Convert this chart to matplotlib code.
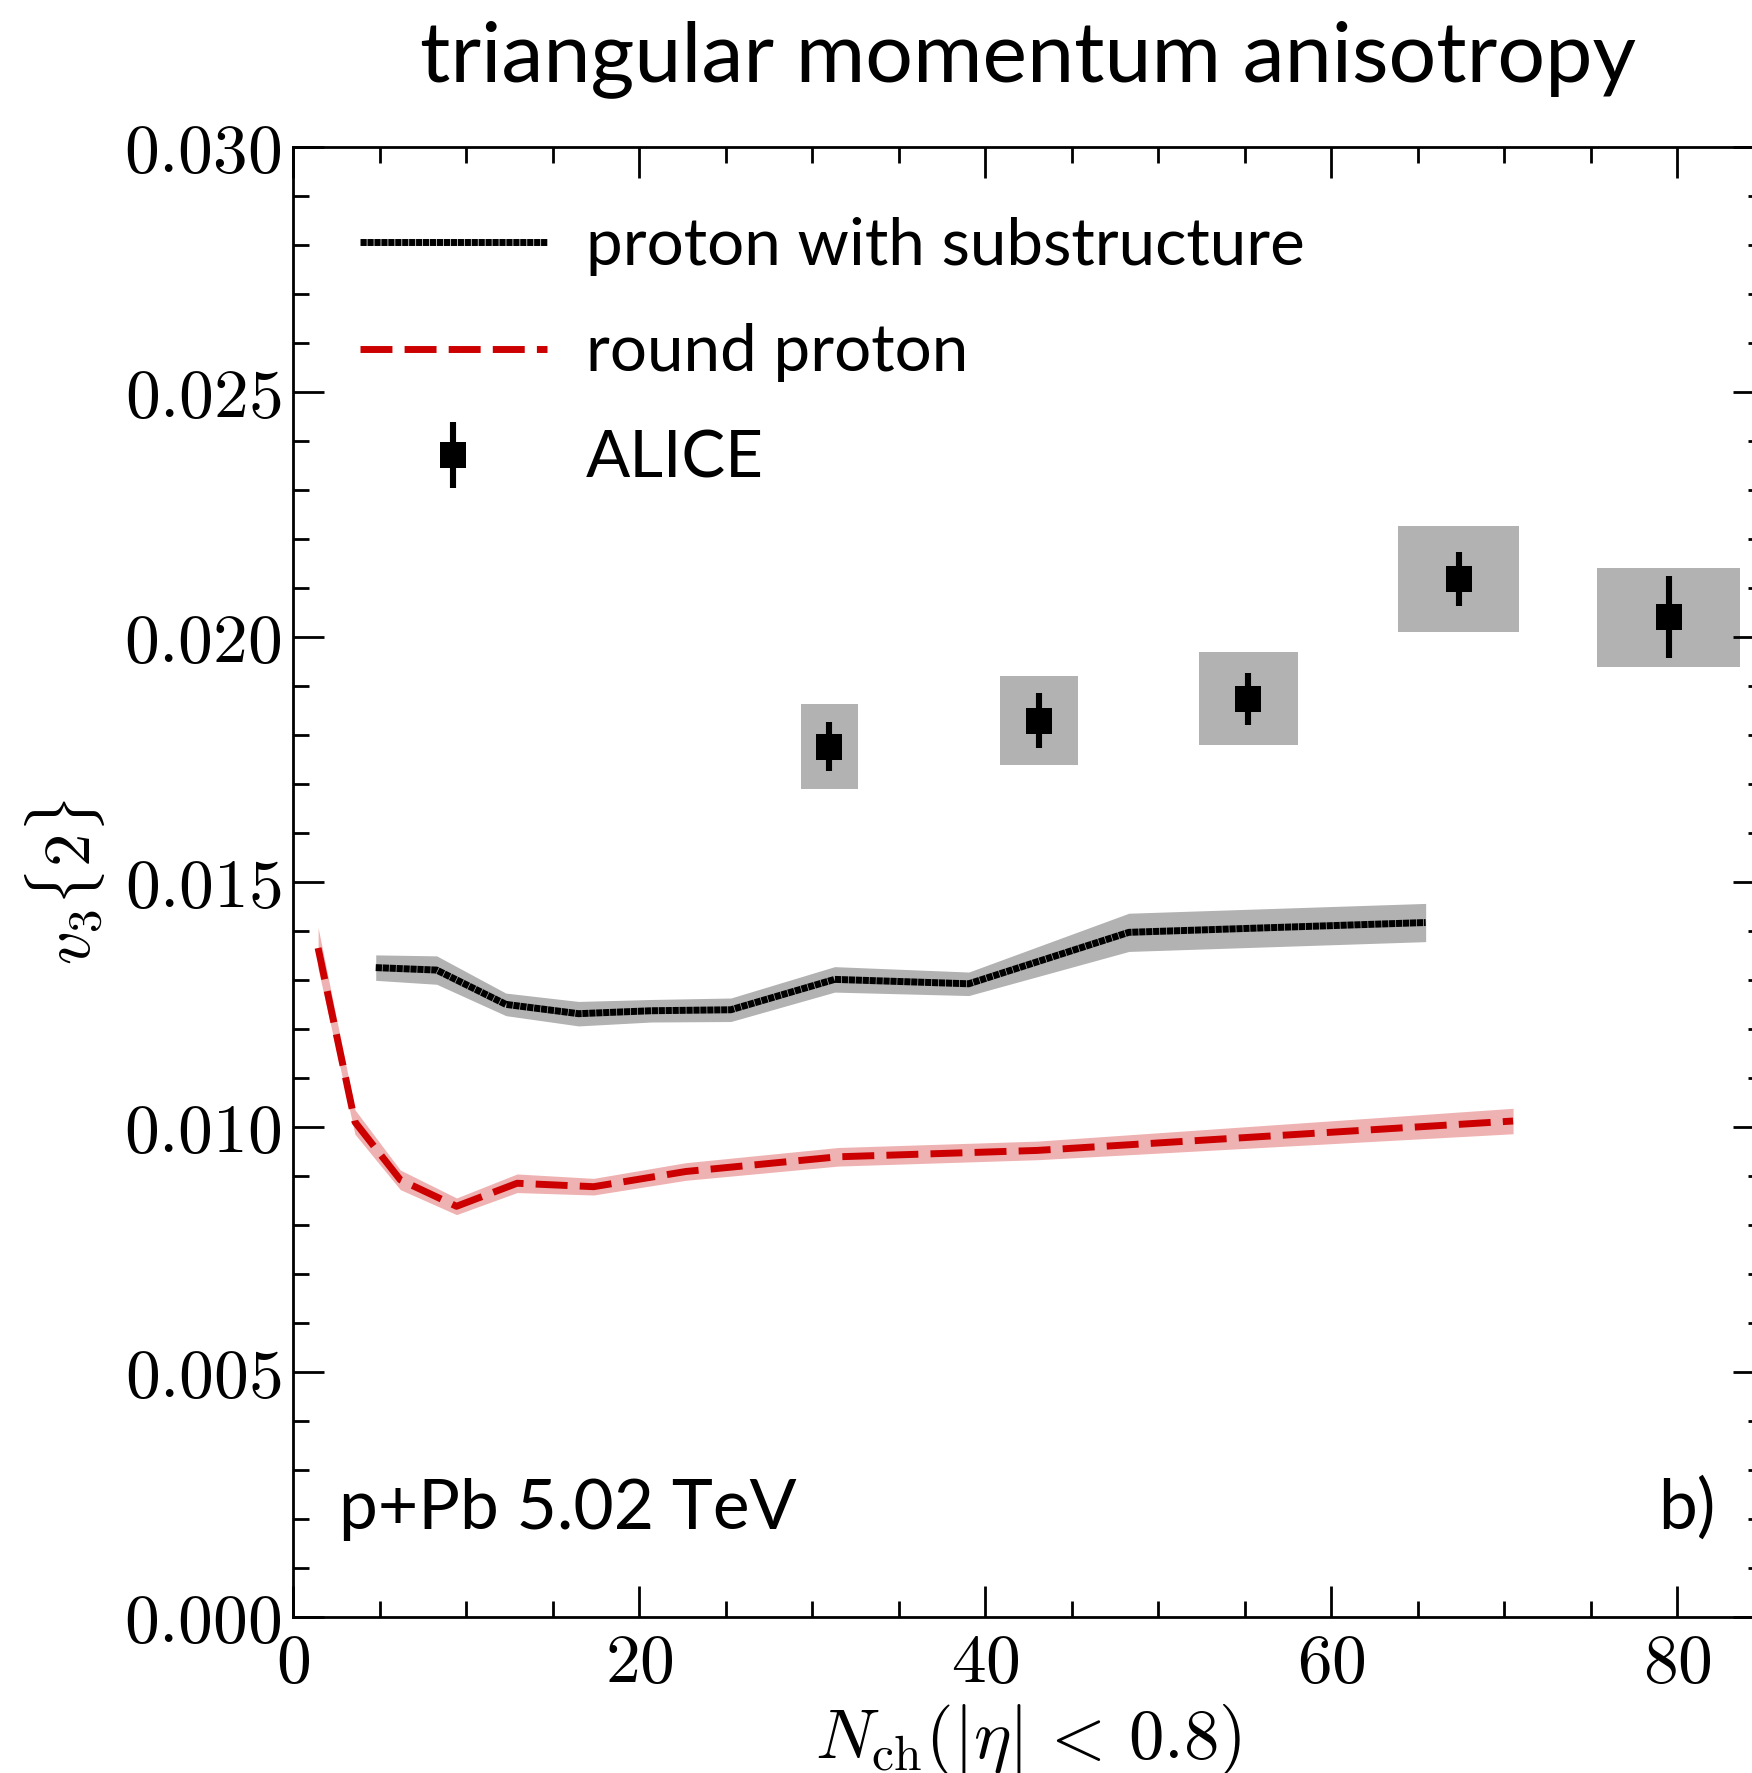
import matplotlib
matplotlib.use("Agg")
import matplotlib.pyplot as plt
import numpy as np
from matplotlib.ticker import MultipleLocator, FormatStrFormatter

plt.rcParams['mathtext.fontset'] = 'cm'
plt.rcParams['font.family'] = ['Lato', 'DejaVu Sans']

# ---- data ----
sub_x = [4.78, 8.3, 12.3, 16.5, 20.7, 25.3, 31.3, 39.05, 48.3, 65.45]
sub_y = [0.01325, 0.01320, 0.01250, 0.01231, 0.01237, 0.01239, 0.01301, 0.01292, 0.01397, 0.01417]
sub_err = [0.00026, 0.00029, 0.00023, 0.00025, 0.00023, 0.00024, 0.00026, 0.00024, 0.00039, 0.00039]

round_x = [1.45, 3.58, 6.2, 9.45, 12.95, 17.37, 22.7, 31.5, 43.0, 70.5]
round_y = [0.01365, 0.01010, 0.00892, 0.00838, 0.00885, 0.00878, 0.00909, 0.00939, 0.00952, 0.01012]
round_err = [0.00042, 0.00025, 0.00020, 0.00017, 0.00019, 0.00017, 0.00018, 0.00019, 0.00019, 0.00026]

alice_x = [31.0, 43.1, 55.2, 67.35, 79.5]
alice_y = [0.01776, 0.01829, 0.01874, 0.02118, 0.02040]
alice_stat = [0.00050, 0.00056, 0.00053, 0.00055, 0.00084]
alice_sys = [0.00086, 0.00091, 0.00095, 0.00108, 0.00101]
alice_dx = [1.65, 2.26, 2.87, 3.5, 4.14]

labels = ["proton with substructure", "round proton", "ALICE"]

W, H, DPI = 1752, 1773, 200
fig = plt.figure(figsize=(W / DPI, H / DPI), dpi=DPI)
ax = fig.add_axes([293 / W, 1 - 1617 / H, (1764 - 293) / W, (1617 - 146.7) / H])

red = '#cc0000'
lw = 2.5

sx, sy, se = map(np.asarray, (sub_x, sub_y, sub_err))
rx, ry, re_ = map(np.asarray, (round_x, round_y, round_err))
ax.fill_between(sx, sy - se, sy + se, color='black', alpha=0.3, lw=0, zorder=1)
ax.fill_between(rx, ry - re_, ry + re_, color=red, alpha=0.3, lw=0, zorder=1)
l1, = ax.plot(sx, sy, color='black', lw=lw, dashes=(0.9, 0.1), dash_capstyle='butt', zorder=3)
l2, = ax.plot(rx, ry, color=red, lw=lw, dashes=(4.6, 1.75), dash_capstyle='butt', zorder=3)

ax_, ay_, ast, asy, adx = map(np.asarray, (alice_x, alice_y, alice_stat, alice_sys, alice_dx))
ax.bar(ax_, 2 * asy, bottom=ay_ - asy, width=2 * adx, color='black', alpha=0.3, lw=0, zorder=2)
eb = ax.errorbar(ax_, ay_, yerr=ast, fmt='s', color='black', ms=9.4, elinewidth=2.2,
                 capsize=0, mew=0, zorder=4)

ax.set_xlim(0, 85)
ax.set_ylim(0, 0.030)
ax.xaxis.set_major_locator(MultipleLocator(20))
ax.xaxis.set_minor_locator(MultipleLocator(5))
ax.yaxis.set_major_locator(MultipleLocator(0.005))
ax.yaxis.set_minor_locator(MultipleLocator(0.001))
ax.xaxis.set_major_formatter(FormatStrFormatter('$%d$'))
ax.yaxis.set_major_formatter(FormatStrFormatter('$%.3f$'))
ax.tick_params(which='both', direction='in', top=True, right=True, width=1.0, labelsize=25)
ax.tick_params(which='major', length=11.2)
ax.tick_params(which='minor', length=5.8)
ax.tick_params(axis='y', pad=4)
ax.tick_params(axis='x', pad=5)
for s in ax.spines.values():
    s.set_linewidth(1.0)

ax.set_xlabel(r'$N_{\rm ch}(|\eta|\,<\,0.8)$', fontsize=25.5)
ax.xaxis.set_label_coords(0.5, -0.058)
ax.xaxis.label.set_va('top')
ax.set_ylabel(r'$v_3\{2\}$', fontsize=24)
ax.yaxis.set_label_coords(-0.1264, 0.5)

leg = ax.legend([l1, l2, eb], labels, loc='upper left', bbox_to_anchor=(0.0455, 0.952),
                frameon=False, fontsize=23.6, handlelength=2.85, handletextpad=0.6,
                labelspacing=0.72, borderpad=0, borderaxespad=0, numpoints=1)

ax.text(0.0313, 0.0599, 'p+Pb 5.02 TeV', transform=ax.transAxes, fontsize=25,
        ha='left', va='baseline')
ax.text(0.967, 0.0599, 'b)', transform=ax.transAxes, fontsize=25,
        ha='right', va='baseline')

fig.text(0.587, 1 - 81 / H, 'triangular momentum anisotropy', fontsize=30.4,
         ha='center', va='baseline')

fig.savefig('out.png', dpi=DPI)
